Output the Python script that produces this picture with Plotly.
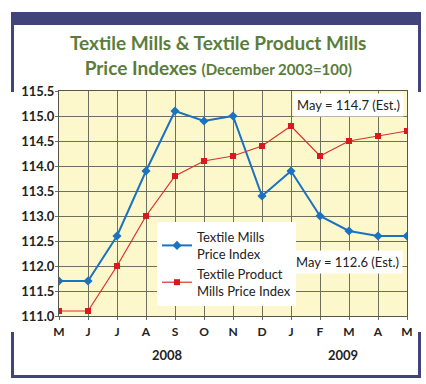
import plotly.graph_objects as go

months = ["M", "J", "J", "A", "S", "O", "N", "D", "J", "F", "M", "A", "M"]
textile_mills = [111.7, 111.7, 112.6, 113.9, 115.1, 114.9, 115.0, 113.4, 113.9, 113.0, 112.7, 112.6, 112.6]
textile_product = [111.1, 111.1, 112.0, 113.0, 113.8, 114.1, 114.2, 114.4, 114.8, 114.2, 114.5, 114.6, 114.7]
y_ticks = [111.0, 111.5, 112.0, 112.5, 113.0, 113.5, 114.0, 114.5, 115.0, 115.5]
years = ["2008", "2009"]

W, H = 426, 384
L, R, T, B = 59, 407, 91, 316
pw, ph = R - L, B - T


def px(x):
    return (x - L) / pw


def py(y):
    return (B - y) / ph


xs = list(range(len(months)))
navy = "#40447a"
green = "#5a7d3c"
font = "Lato"

fig = go.Figure()
fig.add_trace(go.Scatter(
    x=xs, y=textile_mills, mode="lines+markers",
    name="Textile Mills<br>Price Index",
    line=dict(color="#1b72c0", width=2),
    marker=dict(symbol="diamond", size=7, color="#1b72c0"),
))
fig.add_trace(go.Scatter(
    x=xs, y=textile_product, mode="lines+markers",
    name="Textile Product<br>Mills Price Index",
    line=dict(color="#d8312c", width=1.2),
    marker=dict(symbol="square", size=6, color="#d8191f"),
))

shapes = [
    dict(type="rect", xref="paper", yref="paper", x0=px(11), x1=px(421), y0=py(12), y1=py(25),
         fillcolor=navy, line=dict(width=0), layer="above"),
    dict(type="line", xref="paper", yref="paper", x0=px(12.5), x1=px(12.5), y0=py(12), y1=py(92),
         line=dict(color=navy, width=3)),
    dict(type="line", xref="paper", yref="paper", x0=px(419.5), x1=px(419.5), y0=py(12), y1=py(92),
         line=dict(color=navy, width=3)),
    dict(type="path", xref="paper", yref="paper",
         path=f"M {px(12.5)},{py(332)} L {px(12.5)},{py(376.5)} L {px(419.5)},{py(376.5)} L {px(419.5)},{py(332)}",
         line=dict(color=navy, width=3)),
]

annotations = [
    dict(xref="paper", yref="paper", x=px(218), y=py(55), xanchor="center", yanchor="middle",
         text="<b>Tex\u200ctile Mills & Tex\u200ctile Product Mills<br>Price Indexes <span style='font-size:15px'>(December 2003=100)</span></b>",
         showarrow=False, font=dict(family=font, size=19, color=green)),
    dict(xref="paper", yref="paper", x=px(404), y=py(105), xanchor="right", yanchor="middle",
         text="May = 114.7 (Est.)", showarrow=False, bgcolor="white", borderpad=3,
         font=dict(family=font, size=13, color="#222222")),
    dict(xref="paper", yref="paper", x=px(403), y=py(261.5), xanchor="right", yanchor="middle",
         text="May = 112.6 (Est.)", showarrow=False, bgcolor="white", borderpad=3,
         font=dict(family=font, size=13, color="#222222")),
    dict(xref="paper", yref="paper", x=px(167), y=py(355), xanchor="center", yanchor="middle",
         text="<b>" + years[0] + "</b>", showarrow=False, font=dict(family=font, size=13, color="#222222")),
    dict(xref="paper", yref="paper", x=px(343), y=py(355), xanchor="center", yanchor="middle",
         text="<b>" + years[1] + "</b>", showarrow=False, font=dict(family=font, size=13, color="#222222")),
]

fig.update_layout(
    width=W, height=H,
    margin=dict(l=L, r=W - R, t=T, b=H - B),
    paper_bgcolor="white", plot_bgcolor="#fdf8cc",
    shapes=shapes, annotations=annotations,
    showlegend=True,
    legend=dict(x=px(157), y=py(222), xanchor="left", yanchor="top",
                bgcolor="white", font=dict(family=font, size=13, color="#222222"),
                tracegroupgap=6, itemwidth=30),
    xaxis=dict(range=[0, 12], tickvals=xs, ticktext=["<b>" + m + "</b>" for m in months],
               showgrid=True, gridcolor="#6f6f60", gridwidth=1,
               showline=True, linecolor="#55554a", linewidth=1, mirror=True,
               ticks="outside", ticklen=3, tickcolor="#6f6f60",
               ticklabelstandoff=2,
               tickfont=dict(family=font, size=12, color="#222222"), zeroline=False),
    yaxis=dict(range=[111.0, 115.5], tickvals=y_ticks, ticktext=["<b>%.1f</b>" % v for v in y_ticks],
               showgrid=True, gridcolor="#6f6f60", gridwidth=1,
               showline=True, linecolor="#55554a", linewidth=1, mirror=True,
               ticks="outside", ticklen=3, tickcolor="#6f6f60",
               ticklabelstandoff=-2,
               tickfont=dict(family=font, size=13, color="#222222"), zeroline=False),
)

fig.write_html("out.html", config={"displayModeBar": False},
               post_script="document.body.style.margin='0';")
